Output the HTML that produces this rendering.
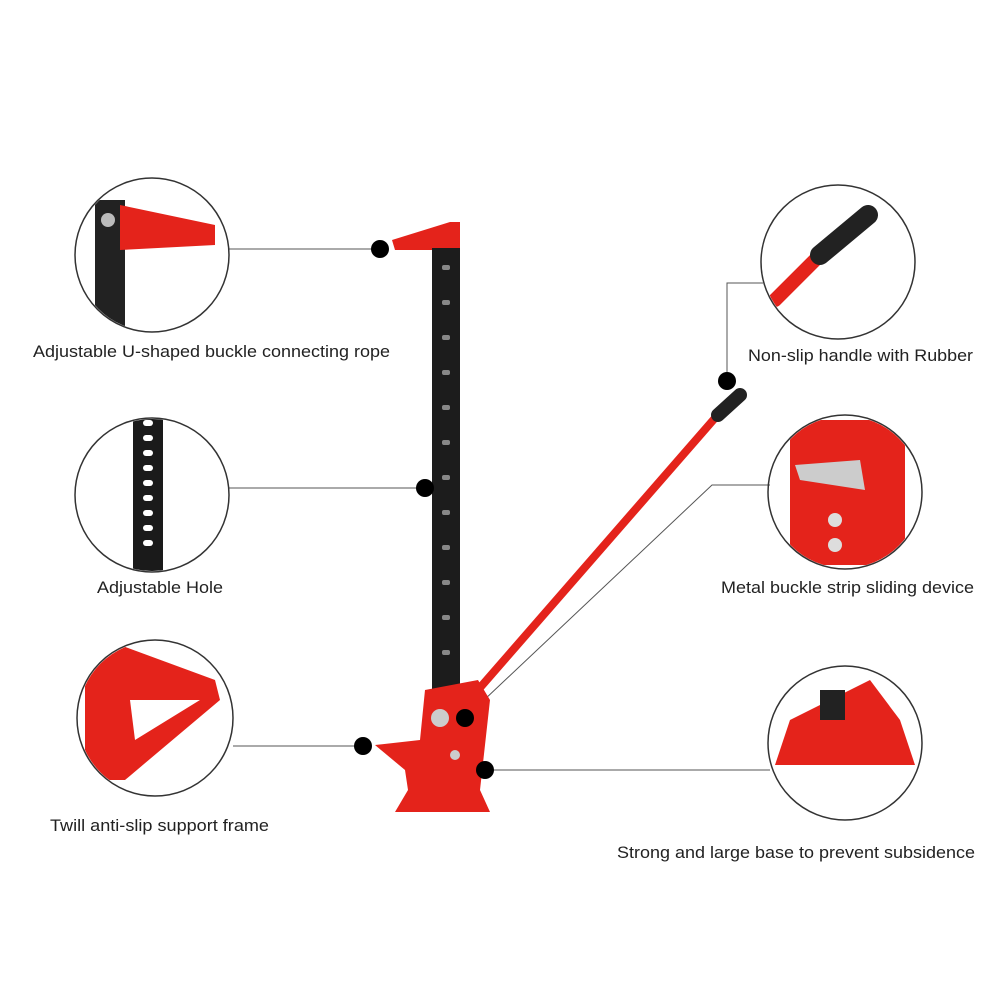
<!DOCTYPE html>
<html><head><meta charset="utf-8"><style>
html,body{margin:0;padding:0;background:#fff;}
svg{display:block}
text{font-family:"Liberation Sans",sans-serif;font-size:17px;fill:#222}
</style></head><body>
<svg width="1000" height="1000" viewBox="0 0 1000 1000">
<defs>
<clipPath id="c1"><circle cx="152" cy="255" r="76"/></clipPath>
<clipPath id="c2"><circle cx="152" cy="495" r="76"/></clipPath>
<clipPath id="c3"><circle cx="155" cy="718" r="77"/></clipPath>
<clipPath id="c4"><circle cx="838" cy="262" r="76"/></clipPath>
<clipPath id="c5"><circle cx="845" cy="492" r="76"/></clipPath>
<clipPath id="c6"><circle cx="845" cy="743" r="76"/></clipPath>
</defs>
<g stroke="#555" stroke-width="1" fill="none">
<line x1="229" y1="249" x2="380" y2="249"/>
<line x1="229" y1="488" x2="425" y2="488"/>
<line x1="233" y1="746" x2="363" y2="746"/>
<polyline points="727,381 727,283 763,283"/>
<polyline points="465,718 712,485 770,485"/>
<line x1="485" y1="770" x2="770" y2="770"/>
</g>
<g clip-path="url(#c1)">
<rect x="95" y="200" width="30" height="130" fill="#222"/>
<path d="M120,205 L215,225 L215,245 L120,250 Z" fill="#e4231b"/>
<circle cx="108" cy="220" r="7" fill="#bbb"/>
</g>
<g clip-path="url(#c2)">
<rect x="133" y="405" width="30" height="170" fill="#1a1a1a"/>
<g fill="#fff"><rect x="143" y="420" width="10" height="6" rx="3"/><rect x="143" y="435" width="10" height="6" rx="3"/><rect x="143" y="450" width="10" height="6" rx="3"/><rect x="143" y="465" width="10" height="6" rx="3"/><rect x="143" y="480" width="10" height="6" rx="3"/><rect x="143" y="495" width="10" height="6" rx="3"/><rect x="143" y="510" width="10" height="6" rx="3"/><rect x="143" y="525" width="10" height="6" rx="3"/><rect x="143" y="540" width="10" height="6" rx="3"/></g>
</g>
<g clip-path="url(#c3)">
<path d="M85,650 L120,645 L215,680 L220,700 L125,780 L85,780 Z" fill="#e4231b"/>
<path d="M130,700 L200,700 L135,740 Z" fill="#fff"/>
</g>
<g clip-path="url(#c4)">
<line x1="775" y1="300" x2="820" y2="255" stroke="#e4231b" stroke-width="14" stroke-linecap="round"/>
<line x1="820" y1="255" x2="868" y2="215" stroke="#222" stroke-width="20" stroke-linecap="round"/>
</g>
<g clip-path="url(#c5)">
<rect x="790" y="420" width="115" height="145" fill="#e4231b"/>
<path d="M795,465 L860,460 L865,490 L800,480 Z" fill="#ccc"/>
<circle cx="835" cy="520" r="7" fill="#ddd"/><circle cx="835" cy="545" r="7" fill="#ddd"/>
</g>
<g clip-path="url(#c6)">
<path d="M775,765 L790,720 L870,680 L900,720 L915,765 Z" fill="#e4231b"/>
<rect x="820" y="690" width="25" height="30" fill="#222"/>
</g>
<g stroke="#333" stroke-width="1.5" fill="none">
<circle cx="152" cy="255" r="77"/>
<circle cx="152" cy="495" r="77"/>
<circle cx="155" cy="718" r="78"/>
<circle cx="838" cy="262" r="77"/>
<circle cx="845" cy="492" r="77"/>
<circle cx="845" cy="743" r="77"/>
</g>
<path d="M392,240 L450,222 L460,222 L460,250 L395,250 Z" fill="#e4231b"/>
<rect x="432" y="248" width="28" height="445" fill="#1c1c1c"/>
<g fill="#888">
<rect x="442" y="265" width="8" height="5" rx="2"/><rect x="442" y="300" width="8" height="5" rx="2"/><rect x="442" y="335" width="8" height="5" rx="2"/><rect x="442" y="370" width="8" height="5" rx="2"/><rect x="442" y="405" width="8" height="5" rx="2"/><rect x="442" y="440" width="8" height="5" rx="2"/><rect x="442" y="475" width="8" height="5" rx="2"/><rect x="442" y="510" width="8" height="5" rx="2"/><rect x="442" y="545" width="8" height="5" rx="2"/><rect x="442" y="580" width="8" height="5" rx="2"/><rect x="442" y="615" width="8" height="5" rx="2"/><rect x="442" y="650" width="8" height="5" rx="2"/>
</g>
<line x1="478" y1="690" x2="722" y2="410" stroke="#e4231b" stroke-width="8" stroke-linecap="round"/>
<line x1="718" y1="415" x2="740" y2="395" stroke="#222" stroke-width="14" stroke-linecap="round"/>
<path d="M425,690 L478,680 L490,700 L480,790 L490,812 L395,812 L408,790 L405,770 L375,745 L420,740 Z" fill="#e4231b"/>
<circle cx="440" cy="718" r="9" fill="#ccc"/>
<circle cx="455" cy="755" r="5" fill="#ccc"/>
<g fill="#000">
<circle cx="380" cy="249" r="9"/><circle cx="425" cy="488" r="9"/><circle cx="363" cy="746" r="9"/>
<circle cx="727" cy="381" r="9"/><circle cx="465" cy="718" r="9"/><circle cx="485" cy="770" r="9"/>
</g>
<text x="33" y="357" textLength="357" lengthAdjust="spacingAndGlyphs">Adjustable U-shaped buckle connecting rope</text>
<text x="97" y="593" textLength="126" lengthAdjust="spacingAndGlyphs">Adjustable Hole</text>
<text x="50" y="831" textLength="219" lengthAdjust="spacingAndGlyphs">Twill anti-slip support frame</text>
<text x="748" y="361" textLength="225" lengthAdjust="spacingAndGlyphs">Non-slip handle with Rubber</text>
<text x="721" y="593" textLength="253" lengthAdjust="spacingAndGlyphs">Metal buckle strip sliding device</text>
<text x="617" y="858" textLength="358" lengthAdjust="spacingAndGlyphs">Strong and large base to prevent subsidence</text>
</svg>
</body></html>
